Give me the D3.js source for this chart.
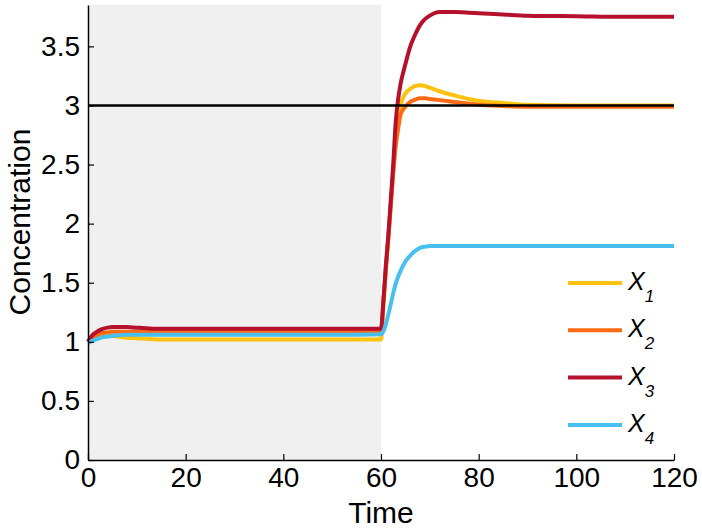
<!DOCTYPE html>
<html>
<head>
<meta charset="utf-8">
<script src="https://cdnjs.cloudflare.com/ajax/libs/d3/7.8.5/d3.min.js"></script>
<style>
  body { margin: 0; background: #fff; }
  text { font-family: "Liberation Sans", Arial, sans-serif; fill: #000; }
</style>
</head>
<body>
<svg id="chart"></svg>
<script>
//SET CONSTANTS
const W = 702, H = 528;
const margin = {top: 5, right: 28, bottom: 68, left: 88};

// time points (shared by every series)
const time = [0, 1, 2, 3, 4, 5, 6, 8, 10, 12, 15, 20, 30, 40, 50, 60,
  60.5, 61, 61.5, 62, 62.5, 63, 63.5, 64, 65, 66, 67, 68, 69, 70, 72, 75, 78, 80, 85, 90, 100, 110, 120];

const x1 = [1.0, 1.03, 1.045, 1.05, 1.05, 1.05, 1.045, 1.035, 1.03, 1.025, 1.02, 1.02, 1.02, 1.02, 1.02, 1.02,
  1.3, 1.6, 1.88, 2.15, 2.45, 2.7, 2.88, 3.0, 3.1, 3.14, 3.165, 3.17, 3.165, 3.15, 3.12, 3.085, 3.055, 3.04, 3.02, 3.005, 3.0, 3.0, 3.0];
const x2 = [1.0, 1.04, 1.06, 1.075, 1.08, 1.085, 1.085, 1.085, 1.085, 1.085, 1.085, 1.085, 1.085, 1.085, 1.085, 1.085,
  1.35, 1.62, 1.88, 2.15, 2.42, 2.65, 2.8, 2.92, 2.99, 3.03, 3.05, 3.06, 3.06, 3.055, 3.045, 3.03, 3.015, 3.005, 2.995, 2.99, 2.99, 2.99, 2.99];
const x3 = [1.0, 1.06, 1.09, 1.11, 1.12, 1.125, 1.125, 1.125, 1.12, 1.115, 1.11, 1.11, 1.11, 1.11, 1.11, 1.11,
  1.35, 1.65, 1.9, 2.2, 2.5, 2.85, 3.05, 3.18, 3.35, 3.5, 3.6, 3.68, 3.73, 3.76, 3.79, 3.79, 3.785, 3.78, 3.77, 3.76, 3.755, 3.75, 3.75];
const x4 = [0.99, 1.01, 1.025, 1.04, 1.045, 1.05, 1.055, 1.06, 1.06, 1.06, 1.06, 1.06, 1.06, 1.06, 1.06, 1.065,
  1.09, 1.15, 1.23, 1.32, 1.41, 1.49, 1.55, 1.6, 1.68, 1.73, 1.77, 1.795, 1.805, 1.81, 1.81, 1.81, 1.81, 1.81, 1.81, 1.81, 1.81, 1.81, 1.81];

const seriesNames = ["1", "2", "3", "4"];
const seriesColors = ["#ffc20e", "#ff6a13", "#b5112d", "#47c0ef"];
const xTicks = [0, 20, 40, 60, 80, 100, 120];
const yTicks = [0, 0.5, 1, 1.5, 2, 2.5, 3, 3.5];
const shadeEnd = 60;
const target = 3;

var svg = d3.select("#chart").attr("width", W).attr("height", H);

var xScale = d3.scaleLinear().domain([0, 120]).range([margin.left, W - margin.right]);
var yScale = d3.scaleLinear().domain([0, 3.85]).range([H - margin.bottom, margin.top]);

// grey shaded interval
svg.append("rect")
  .attr("x", xScale(0))
  .attr("y", margin.top)
  .attr("width", xScale(shadeEnd) - xScale(0))
  .attr("height", yScale(0) - margin.top)
  .attr("fill", "#f0f0f0");

// lines
var series = [x1, x2, x3, x4];
var line = d3.line()
  .x((d, i) => xScale(time[i]))
  .y(d => yScale(d))
  .curve(d3.curveMonotoneX);

series.forEach(function(s, k) {
  svg.append("path")
    .datum(s)
    .attr("d", line)
    .attr("fill", "none")
    .attr("stroke", seriesColors[k])
    .attr("stroke-width", 4)
    .attr("stroke-linejoin", "round");
});

// target line
svg.append("line")
  .attr("x1", xScale(0)).attr("x2", xScale(120))
  .attr("y1", yScale(target)).attr("y2", yScale(target))
  .attr("stroke", "#000").attr("stroke-width", 2.5);

// axes (ticks point inward)
var xAxis = svg.append("g")
  .attr("transform", "translate(0," + yScale(0) + ")")
  .call(d3.axisBottom(xScale).tickValues(xTicks).tickSizeInner(-6).tickSizeOuter(0).tickPadding(10));
var yAxis = svg.append("g")
  .attr("transform", "translate(" + xScale(0) + ",0)")
  .call(d3.axisLeft(yScale).tickValues(yTicks).tickSizeInner(-6).tickSizeOuter(0).tickPadding(8)
    .tickFormat(d3.format("")));

[xAxis, yAxis].forEach(function(a) {
  a.select(".domain").attr("stroke", "#000").attr("stroke-width", 1.5);
  a.selectAll(".tick line").attr("stroke", "#000").attr("stroke-width", 1.2);
  a.selectAll(".tick text").style("font-size", "28px").attr("fill", "#000");
});
xAxis.selectAll(".tick text").attr("dy", "0.6em");

// axis titles
svg.append("text")
  .attr("x", xScale(60))
  .attr("y", 523)
  .attr("text-anchor", "middle")
  .style("font-size", "30px")
  .text("Time");

svg.append("text")
  .attr("transform", "translate(30," + 222 + ") rotate(-90)")
  .attr("text-anchor", "middle")
  .style("font-size", "30px")
  .text("Concentration");

// legend
var legend = svg.append("g").attr("transform", "translate(568,283)");
seriesNames.forEach(function(n, k) {
  var g = legend.append("g").attr("transform", "translate(0," + (k * 47.3) + ")");
  g.append("line")
    .attr("x1", 0).attr("x2", 54)
    .attr("stroke", seriesColors[k]).attr("stroke-width", 4);
  var t = g.append("text")
    .attr("x", 60).attr("y", 7)
    .style("font-size", "25px")
    .style("font-style", "italic");
  t.append("tspan").text("X");
  t.append("tspan").attr("dy", 12).style("font-size", "17px").text(n);
});
</script>
</body>
</html>
